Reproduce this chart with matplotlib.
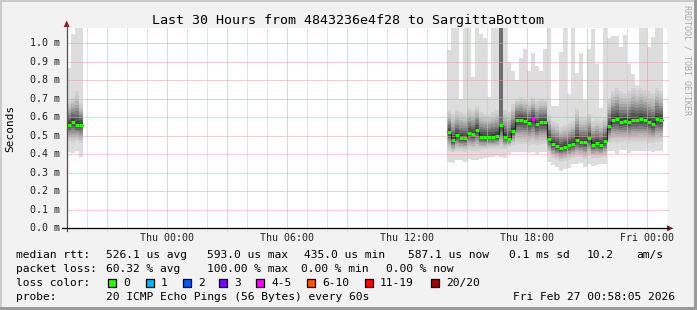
import matplotlib
matplotlib.use('Agg')
import matplotlib.pyplot as plt
import numpy as np
from matplotlib.lines import Line2D
from matplotlib.patches import Rectangle, Polygon

plt.rcParams['lines.scale_dashes'] = False
MONO = 'DejaVu Sans Mono'

# ---------------- data ----------------
title = "Last 30 Hours from 4843236e4f28 to SargittaBottom"
y_ticks = [0.0, 0.1, 0.2, 0.3, 0.4, 0.5, 0.6, 0.7, 0.8, 0.9, 1.0]
x_tick_hours = [0, 6, 12, 18, 24]
x_tick_labels = ["Thu 00:00", "Thu 06:00", "Thu 12:00", "Thu 18:00", "Fri 00:00"]
col_width_h = 0.2   # 12 minute consolidation

# block A (Wed evening)
a_start = [-5.0, -4.8, -4.6, -4.4]
a_med = [0.560, 0.575, 0.560, 0.560]
a_min = [0.410, 0.405, 0.420, 0.385]
a_lo = [0.470, 0.460, 0.470, 0.460]
a_hi = [0.690, 0.710, 0.740, 0.675]
a_max = [0.867, 1.050, 1.090, 1.090]
a_loss = [0, 0, 0, 0]

# block B (Thu 14:00 -> Fri 00:48)
b_start = list(np.round(np.arange(14.0, 24.8 - 1e-9, 0.2), 2))
b_med = [0.521, 0.476, 0.503, 0.488, 0.488, 0.515, 0.508, 0.532, 0.494, 0.494,
         0.494, 0.494, 0.499, 0.560, 0.494, 0.485, 0.526, 0.586, 0.586, 0.582,
         0.569, 0.591, 0.562, 0.575, 0.575, 0.485, 0.454, 0.445, 0.434, 0.440,
         0.449, 0.456, 0.477, 0.465, 0.465, 0.488, 0.451, 0.459, 0.449, 0.470,
         0.551, 0.586, 0.591, 0.575, 0.580, 0.575, 0.586, 0.586, 0.589, 0.586,
         0.575, 0.564, 0.591, 0.586]
b_min = [0.360, 0.355, 0.370, 0.370, 0.360, 0.375, 0.370, 0.370, 0.375, 0.380,
         0.385, 0.385, 0.390, 0.385, 0.380, 0.400, 0.410, 0.410, 0.415, 0.410,
         0.405, 0.410, 0.400, 0.410, 0.410, 0.360, 0.340, 0.330, 0.310, 0.323,
         0.326, 0.350, 0.350, 0.355, 0.331, 0.350, 0.337, 0.340, 0.346, 0.346,
         0.418, 0.418, 0.404, 0.422, 0.422, 0.407, 0.420, 0.420, 0.420, 0.420,
         0.420, 0.415, 0.420, 0.420]
b_lo = [0.420, 0.410, 0.420, 0.420, 0.415, 0.425, 0.420, 0.420, 0.425, 0.425,
        0.430, 0.430, 0.430, 0.430, 0.430, 0.440, 0.450, 0.455, 0.455, 0.455,
        0.450, 0.455, 0.450, 0.455, 0.455, 0.400, 0.380, 0.370, 0.360, 0.365,
        0.370, 0.380, 0.385, 0.385, 0.375, 0.390, 0.380, 0.380, 0.380, 0.385,
        0.460, 0.465, 0.460, 0.465, 0.465, 0.460, 0.465, 0.465, 0.465, 0.465,
        0.460, 0.460, 0.465, 0.465]
b_hi = [0.640, 0.620, 0.640, 0.630, 0.620, 0.650, 0.640, 0.660, 0.630, 0.620,
        0.620, 0.630, 0.640, 0.700, 0.640, 0.630, 0.670, 0.700, 0.710, 0.700,
        0.690, 0.710, 0.690, 0.700, 0.700, 0.620, 0.580, 0.570, 0.550, 0.560,
        0.570, 0.580, 0.650, 0.600, 0.600, 0.620, 0.580, 0.590, 0.580, 0.600,
        0.700, 0.740, 0.760, 0.740, 0.730, 0.740, 0.760, 0.750, 0.760, 0.750,
        0.740, 0.730, 0.760, 0.740]
b_max = [0.962, 1.090, 1.090, 0.700, 1.090, 1.090, 0.820, 1.090, 1.050, 1.030,
         0.710, 1.090, 1.090, 1.090, 1.090, 0.900, 0.850, 0.800, 0.920, 0.970,
         0.850, 0.950, 0.880, 0.850, 0.970, 1.090, 0.660, 0.660, 0.953, 1.090,
         0.724, 1.090, 0.840, 0.948, 0.696, 0.968, 1.075, 0.890, 0.650, 1.090,
         1.030, 1.040, 1.040, 0.980, 1.045, 0.890, 0.836, 0.773, 1.090, 1.090,
         0.980, 1.035, 1.090, 1.090]
b_loss = [0] * 21 + [4] + [0] * 32
b_dense_top = {13: 1.090}   # column with many pings above the range

loss_labels = ["0", "1", "2", "3", "4-5", "6-10", "11-19", "20/20"]
loss_colors = ["#26ff00", "#00b8ff", "#0059ff", "#7e00ff", "#ff00ff",
               "#ff5500", "#ff0000", "#a00000"]

legend_rows = [
    [(16, "median rtt:"), (106, "526.1 us avg"), (207, "593.0 us max"),
     (304, "435.0 us min"), (408, "587.1 us now"), (509, "0.1 ms sd"),
     (587, "10.2"), (636, "am/s")],
    [(16, "packet loss:"), (106, "60.32 % avg"), (207, "100.00 % max"),
     (301, "0.00 % min"), (386, "0.00 % now")],
    [(16, "loss color:")],
    [(16, "probe:"), (106, "20 ICMP Echo Pings (56 Bytes) every 60s"),
     (513, "Fri Feb 27 00:58:05 2026")],
]
loss_box_x = [108, 146, 183, 219, 256, 307, 365, 431]

# ---------------- figure ----------------
W, H = 697, 310
fig = plt.figure(figsize=(W / 100, H / 100), dpi=100, facecolor='#f2f2f2')

def fx(x):
    return x / W

def fy(y):
    return 1 - y / H

L, R, T, B = 66.7, 666.7, 27.5, 228.3
ax = fig.add_axes([fx(L), fy(B), (R - L) / W, (B - T) / H])
ax.set_facecolor('white')
ax.set_xlim(-5, 25)
ymax = (B - T) / 185.0
ax.set_ylim(0, ymax)
for s in ax.spines.values():
    s.set_visible(False)
ax.set_xticks([])
ax.set_yticks([])

K = 10
light = np.array([0xd2, 0xd2, 0xd2]) / 255
dark = np.array([0x3a, 0x3a, 0x3a]) / 255


def draw_block(starts, mins, los, meds, his, maxs, loss, dense=None):
    starts = np.array(starts, float)
    mins, los, meds, his, maxs = map(np.array, (mins, los, meds, his, maxs))
    ax.bar(starts, maxs - mins, bottom=mins, width=col_width_h, align='edge',
           color='#dddddd', linewidth=0, antialiased=False, zorder=1)
    for k in range(K):
        f = k / K
        c = light + (dark - light) * (k / (K - 1)) ** 1.5
        bot = los + (meds - los) * f
        top = his - (his - meds) * f
        ax.bar(starts, top - bot, bottom=bot, width=col_width_h, align='edge',
               color=c, linewidth=0, antialiased=False, zorder=1.5)
    if dense:
        for i, top in dense.items():
            ax.bar([starts[i]], [top - meds[i]], bottom=[meds[i]], width=col_width_h,
                   align='edge', color='#6e6e6e', linewidth=0, antialiased=False, zorder=1.6)
    edges = np.append(starts, starts[-1] + col_width_h)
    ax.step(edges, np.append(meds, meds[-1]), where='post', color='#202020',
            lw=0.8, zorder=4)
    ax.hlines(meds, starts, starts + col_width_h,
              colors=[loss_colors[l] for l in loss], lw=2.3, zorder=5)


draw_block(a_start, a_min, a_lo, a_med, a_hi, a_max, a_loss)
draw_block(b_start, b_min, b_lo, b_med, b_hi, b_max, b_loss, b_dense_top)

# grid (drawn over the smoke, as rrdtool does)
ext = 3 / 185.0
for h in range(-4, 25):
    major = (h % 3 == 0)
    ax.add_line(Line2D([h, h], [-ext, ymax], color='#f09a9a' if major else '#c9c9c9',
                       lw=0.72, linestyle=(0, (0.72, 0.72)), zorder=3, clip_on=False))
for v in y_ticks[1:]:
    ax.add_line(Line2D([-5, 25.1], [v, v], color='#f09a9a', lw=0.72,
                       linestyle=(0, (0.72, 0.72)), zorder=3, clip_on=False))

# axes lines and arrows (pixel coordinates)
fig.add_artist(Line2D([fx(L), fx(L)], [fy(231), fy(24)], color='#505050', lw=0.9))
fig.add_artist(Line2D([fx(62), fx(668)], [fy(B), fy(B)], color='#000000', lw=0.9))
fig.add_artist(Polygon([[fx(L - 3), fy(27)], [fx(L + 3), fy(27)], [fx(L), fy(20.5)]],
                       closed=True, color='#8b1a1a', lw=0))
fig.add_artist(Polygon([[fx(667), fy(B - 3)], [fx(667), fy(B + 3)], [fx(673.5), fy(B)]],
                       closed=True, color='#8b1a1a', lw=0))

# y tick labels (right edge at pixel 60.5)
xlab = -5 - (L - 60.5) / 20.0
for v in y_ticks:
    ax.text(xlab, v, f"{v:.1f} m", ha='right', va='center',
            fontsize=7.2, family=MONO, color='#202020')

# x tick labels
for h, lab in zip(x_tick_hours, x_tick_labels):
    ax.text(h, -(241 - B) / 185.0, lab, ha='center', va='baseline',
            fontsize=7.2, family=MONO, color='#202020')

# title
fig.text(fx(348.5), fy(24), title, ha='center', va='baseline', fontsize=9.6,
         family=MONO, color='#000000')
# y label
fig.text(fx(10.5), fy(128), "Seconds", rotation=90, ha='center', va='center',
         fontsize=8.0, family=MONO, color='#000000')
# watermark
fig.text(fx(687.5), fy(5), "RRDTOOL / TOBI OETIKER", rotation=270, ha='center', va='top',
         fontsize=6.0, family=MONO, color='#a8a8a8')

# legend
baselines = [258.3, 272.3, 286.3, 300.3]
for row, yb in zip(legend_rows, baselines):
    for x, s in row:
        fig.text(fx(x), fy(yb), s, ha='left', va='baseline', fontsize=8.15,
                 family=MONO, color='#000000')
for bx, col, lab in zip(loss_box_x, loss_colors, loss_labels):
    fig.add_artist(Rectangle((fx(bx), fy(286.5)), 7.5 / W, 7.5 / H, facecolor=col,
                             edgecolor='#000000', lw=0.9))
    fig.text(fx(bx + 15), fy(286.3), lab, ha='left', va='baseline', fontsize=8.15,
             family=MONO, color='#000000')

# frame shading
fig.add_artist(Rectangle((0, fy(2)), 1, 2 / H, facecolor='#cbcbcb', lw=0))
fig.add_artist(Rectangle((0, 0), 2 / W, 1, facecolor='#cbcbcb', lw=0))
fig.add_artist(Rectangle((0, 0), 1, 3 / H, facecolor='#999999', lw=0))
fig.add_artist(Rectangle((fx(694), 0), 3 / W, 1, facecolor='#999999', lw=0))

fig.savefig('out.png', dpi=100, facecolor=fig.get_facecolor())
